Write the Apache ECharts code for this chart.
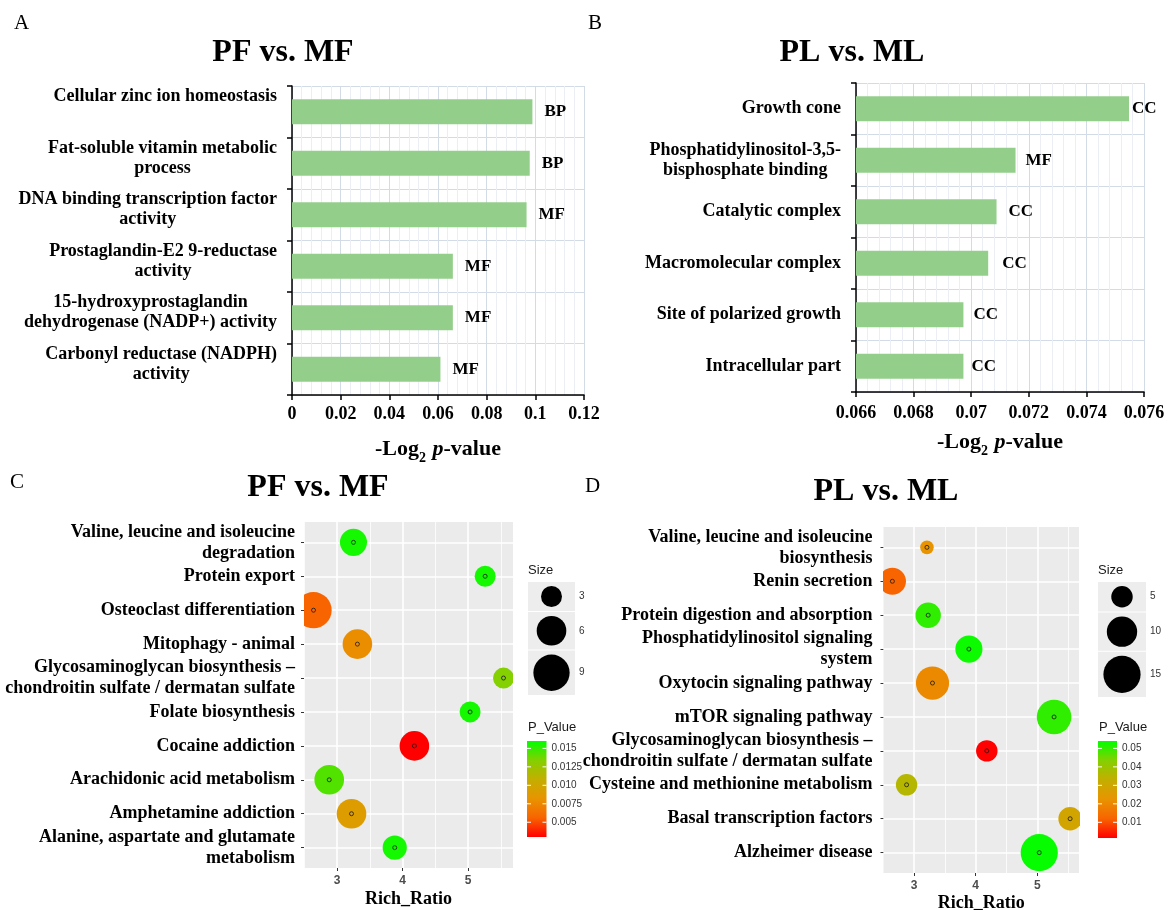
<!DOCTYPE html>
<html><head><meta charset="utf-8"><title>GO and KEGG enrichment</title>
<script src="https://cdn.jsdelivr.net/npm/echarts@6.0.0/dist/echarts.min.js"></script>
<style>html,body{margin:0;padding:0;background:#fff;overflow:hidden}#chart{width:1169px;height:910px}</style>
</head><body><div id="chart"></div>
<script>
// ---------------- Data ----------------
// Panel A : GO, PF vs. MF
const goPFCategories = [
  'Cellular zinc ion homeostasis\n',
  'Fat-soluble vitamin metabolic\nprocess',
  'DNA binding transcription factor\nactivity',
  'Prostaglandin-E2 9-reductase\nactivity',
  '15-hydroxyprostaglandin\ndehydrogenase (NADP+) activity',
  'Carbonyl reductase (NADPH)\nactivity'
];
const goPFValues = [0.0988, 0.0977, 0.0964, 0.0661, 0.0661, 0.0610];
const goPFOntology = ['BP', 'BP', 'MF', 'MF', 'MF', 'MF'];
const goPFAxis = [0, 0.12, 0.02];          // min, max, interval

// Panel B : GO, PL vs. ML
const goPLCategories = [
  'Growth cone',
  'Phosphatidylinositol-3,5-\nbisphosphate binding',
  'Catalytic complex',
  'Macromolecular complex',
  'Site of polarized growth',
  'Intracellular part'
];
const goPLValues = [0.07548, 0.07154, 0.07088, 0.07059, 0.06973, 0.06973];
const goPLOntology = ['CC', 'MF', 'CC', 'CC', 'CC', 'CC'];
const goPLAxis = [0.066, 0.076, 0.002];

// Panel C : KEGG, PF vs. MF
const keggPFPathways = [
  'Valine, leucine and isoleucine\ndegradation',
  'Protein export',
  'Osteoclast differentiation',
  'Mitophagy - animal',
  'Glycosaminoglycan biosynthesis \u2013\nchondroitin sulfate / dermatan sulfate',
  'Folate biosynthesis',
  'Cocaine addiction',
  'Arachidonic acid metabolism',
  'Amphetamine addiction',
  'Alanine, aspartate and glutamate\nmetabolism'
];
const keggPFRichRatio = [3.25, 5.26, 2.64, 3.31, 5.54, 5.03, 4.18, 2.88, 3.22, 3.88];
const keggPFSize = [5, 3, 9, 6, 3, 3, 6, 6, 6, 4];
const keggPFPValue = [0.0156, 0.0156, 0.0056, 0.0079, 0.0134, 0.0156, 0.0030, 0.0144, 0.0090, 0.0156];
const keggPFXTicks = [3, 4, 5];
const keggPFSizeBreaks = [3, 6, 9];
const keggPFColorRange = [0.003, 0.016];
const keggPFColorTicks = [0.015, 0.0125, 0.010, 0.0075, 0.005];
const keggPFColorLabels = ['0.015', '0.0125', '0.010', '0.0075', '0.005'];

// Panel D : KEGG, PL vs. ML
const keggPLPathways = [
  'Valine, leucine and isoleucine\nbiosynthesis',
  'Renin secretion',
  'Protein digestion and absorption',
  'Phosphatidylinositol signaling\nsystem',
  'Oxytocin signaling pathway',
  'mTOR signaling pathway',
  'Glycosaminoglycan biosynthesis \u2013\nchondroitin sulfate / dermatan sulfate',
  'Cysteine and methionine metabolism',
  'Basal transcription factors',
  'Alzheimer disease'
];
const keggPLRichRatio = [3.21, 2.65, 3.23, 3.89, 3.30, 5.27, 4.18, 2.88, 5.53, 5.03];
const keggPLSize = [2, 8, 7, 8, 12, 13, 5, 5, 6, 15];
const keggPLPValue = [0.0225, 0.0120, 0.0503, 0.0530, 0.0204, 0.0503, 0.0016, 0.0356, 0.0288, 0.0535];
const keggPLXTicks = [3, 4, 5];
const keggPLSizeBreaks = [5, 10, 15];
const keggPLColorRange = [0.0015, 0.054];
const keggPLColorTicks = [0.05, 0.04, 0.03, 0.02, 0.01];
const keggPLColorLabels = ['0.05', '0.04', '0.03', '0.02', '0.01'];

// ---------------- Styling ----------------
const SERIF = '"Times New Roman","Liberation Serif",serif';
const SANS = '"Liberation Sans",Arial,sans-serif';
const BAR_COLOR = '#93cf8a';
const GRID_MAJOR = '#d3dbe6';
const GRID_MINOR = '#ebeff5';
const RAMP = ['#ff0000', '#f86400', '#e89400', '#c4ae00', '#84d000', '#00ff00'];
const SIZE_K_C = 12.1, SIZE_K_D = 9.6;

const chart = echarts.init(document.getElementById('chart'), null, { width: 1169, height: 910 });

function centeredLines(v) {
  return v.split('\n').map(s => '{c|' + (s === '' ? ' ' : s) + '}').join('\n');
}
const richCenter = { c: { align: 'center', fontFamily: SERIF, fontWeight: 'bold', fontSize: 18, lineHeight: 20, color: '#000' } };

function logName() {
  const base = { fontFamily: SERIF, fontWeight: 'bold', fontSize: 22, color: '#000', lineHeight: 24, verticalAlign: 'top' };
  return {
    text: '{a|-Log}{s|2}{a| }{i|p}{a|-value}',
    style: {
      fontFamily: SERIF, fontWeight: 'bold', fontSize: 22, color: '#000',
      rich: {
        a: base,
        i: Object.assign({}, base, { fontStyle: 'italic' }),
        s: { fontFamily: SERIF, fontWeight: 'bold', fontSize: 14, color: '#000', lineHeight: 14, verticalAlign: 'top', padding: [13, 1, 0, 0] }
      }
    }
  };
}

function goXAxis(grid, ax, margin, gap) {
  const nm = logName();
  return {
    gridIndex: grid, type: 'value', min: ax[0], max: ax[1], interval: ax[2],
    axisLine: { show: true, onZero: false, lineStyle: { color: '#000', width: 1.5 } },
    axisTick: { show: true, length: 5, lineStyle: { color: '#000', width: 1.5 } },
    axisLabel: { margin: margin, color: '#000', fontFamily: SERIF, fontWeight: 'bold', fontSize: 18, hideOverlap: false },
    splitLine: { show: true, lineStyle: { color: GRID_MAJOR, width: 1 } },
    minorTick: { show: false, splitNumber: 5 },
    minorSplitLine: { show: true, lineStyle: { color: GRID_MINOR, width: 1 } },
    name: nm.text, nameLocation: 'middle', nameGap: gap, nameTextStyle: nm.style
  };
}
function goYAxis(grid, cats, margin, padBottom) {
  return {
    gridIndex: grid, type: 'category', data: cats, inverse: true,
    axisLine: { show: true, lineStyle: { color: '#000', width: 1.5 } },
    axisTick: { show: true, length: 5, lineStyle: { color: '#000', width: 1.5 } },
    axisLabel: { interval: 0, margin: margin, formatter: centeredLines, rich: richCenter,
      fontFamily: SERIF, fontWeight: 'bold', fontSize: 18, color: '#000', padding: [0, 0, padBottom, 0] },
    splitLine: { show: true, interval: 0, lineStyle: { color: GRID_MAJOR, width: 1 } }
  };
}
function goBar(idx, values, onto, distances) {
  return {
    type: 'bar', xAxisIndex: idx, yAxisIndex: idx, barWidth: 25,
    data: values.map((v, i) => ({ value: v, label: { distance: distances[i] } })),
    itemStyle: { color: BAR_COLOR },
    label: { show: true, position: 'right', formatter: p => onto[p.dataIndex],
      fontFamily: SERIF, fontWeight: 'bold', fontSize: 17, color: '#000' },
    animation: false
  };
}

function limits(xs) {
  const lo = Math.min.apply(null, xs), hi = Math.max.apply(null, xs), e = (hi - lo) * 0.05;
  return [lo - e, hi + e];
}
const limPF = limits(keggPFRichRatio), limPL = limits(keggPLRichRatio);

function ggXAxis(grid, lim, ticks, margin, gap) {
  return {
    gridIndex: grid, type: 'value', min: lim[0], max: lim[1],
    axisLine: { show: false },
    axisTick: { show: true, length: 3, customValues: ticks, lineStyle: { color: '#333', width: 1 } },
    axisLabel: { customValues: ticks, margin: margin, color: '#4d4d4d', fontFamily: SANS, fontWeight: 'bold', fontSize: 12 },
    splitLine: { show: false },
    name: 'Rich_Ratio', nameLocation: 'middle', nameGap: gap,
    nameTextStyle: { fontFamily: SERIF, fontWeight: 'bold', fontSize: 18, color: '#000' }
  };
}
function ggYAxis(grid, names, margin) {
  const idx = names.map((_, i) => i + 1);
  return {
    gridIndex: grid, type: 'value', min: 0.4, max: names.length + 0.6, inverse: true,
    axisLine: { show: false },
    axisTick: { show: true, length: 3, customValues: idx, lineStyle: { color: '#333', width: 1 } },
    axisLabel: { customValues: idx, formatter: v => names[Math.round(v) - 1] || '', margin: margin,
      fontFamily: SERIF, fontWeight: 'bold', fontSize: 18, lineHeight: 21, color: '#000', align: 'right' },
    splitLine: { show: false }
  };
}
function ggGridLines(lim, majors, n) {
  const data = [];
  const minors = [];
  for (let i = 0; i < majors.length + 1; i++) {
    const m = (i === 0 ? majors[0] - 0.5 : majors[i - 1] + 0.5);
    if (m > lim[0] && m < lim[1]) minors.push(m);
  }
  minors.forEach(v => data.push({ xAxis: v, lineStyle: { color: '#fff', width: 0.8, type: 'solid' } }));
  majors.forEach(v => data.push({ xAxis: v, lineStyle: { color: '#fff', width: 1.6, type: 'solid' } }));
  for (let i = 1; i <= n; i++) data.push({ yAxis: i, lineStyle: { color: '#fff', width: 1.6, type: 'solid' } });
  return { silent: true, symbol: ['none', 'none'], label: { show: false }, z: 1, animation: false,
    emphasis: { disabled: true }, data: data };
}
// bubbles as a custom series so that they are clipped to the panel like ggplot
function ggBubbles(idx, xs, sizes, ps, k, lim, majors, n) {
  return {
    type: 'custom', xAxisIndex: idx, yAxisIndex: idx, z: 3, clip: true,
    dimensions: ['x', 'y', 'size', 'p'],
    encode: { x: 0, y: 1 },
    data: xs.map((x, i) => [x, i + 1, sizes[i], ps[i]]),
    renderItem: (params, api) => {
      const pt = api.coord([api.value(0), api.value(1)]);
      return { type: 'circle', shape: { cx: pt[0], cy: pt[1], r: k * Math.sqrt(api.value(2)) / 2 },
        style: { fill: api.visual('color') } };
    },
    markLine: ggGridLines(lim, majors, n),
    animation: false
  };
}
function ggDots(idx, xs) {
  return {
    type: 'scatter', xAxisIndex: idx, yAxisIndex: idx, z: 4, silent: true,
    data: xs.map((x, i) => [x, i + 1]),
    symbolSize: 4,
    itemStyle: { color: 'rgba(0,0,0,0)', borderColor: '#1a1a1a', borderWidth: 1 },
    animation: false
  };
}

// ---------------- Graphic (titles, legends) ----------------
const graphics = [];
function txt(x, y, text, font, align, color) {
  graphics.push({ type: 'text', x: x, y: y, silent: true,
    style: { text: text, font: font, fill: color || '#000', align: align || 'left', verticalAlign: 'middle',
      textAlign: align || 'left', textVerticalAlign: 'middle' } });
}
[[14, 23, 'A'], [588, 23, 'B'], [10, 482, 'C'], [585, 486, 'D']].forEach(l => txt(l[0], l[1], l[2], '21px ' + SERIF));
[[283, 53, 'PF vs. MF'], [852, 53, 'PL vs. ML'], [318, 488, 'PF vs. MF'], [886, 492, 'PL vs. ML']]
  .forEach(t => txt(t[0], t[1], t[2], 'bold 32px ' + SERIF, 'center'));

function sizeLegend(x, y, w, breaks, k) {
  txt(x, y - 12, 'Size', '13px ' + SANS, 'left', '#1a1a1a');
  let cy = y;
  breaks.forEach(b => {
    const d = k * Math.sqrt(b), h = d + 8;
    graphics.push({ type: 'rect', silent: true, shape: { x: x, y: cy, width: w, height: h }, style: { fill: '#ededed' } });
    graphics.push({ type: 'circle', silent: true, shape: { cx: x + w / 2, cy: cy + h / 2, r: d / 2 }, style: { fill: '#000' } });
    txt(x + w + 4, cy + h / 2, String(b), '10px ' + SANS, 'left', '#333');
    cy += h + 1;
  });
}
function colorBar(x, y, w, h, range, ticks, labels) {
  txt(x + 1, y - 14, 'P_Value', '13px ' + SANS, 'left', '#1a1a1a');
  const stops = RAMP.map((c, i) => ({ offset: i / (RAMP.length - 1), color: RAMP[RAMP.length - 1 - i] }));
  graphics.push({ type: 'rect', silent: true, shape: { x: x, y: y, width: w, height: h },
    style: { fill: new echarts.graphic.LinearGradient(0, 0, 0, 1, stops) } });
  ticks.forEach((v, i) => {
    const ty = y + (range[1] - v) / (range[1] - range[0]) * h;
    graphics.push({ type: 'line', silent: true, shape: { x1: x, y1: ty, x2: x + 4, y2: ty }, style: { stroke: '#fff', lineWidth: 1 } });
    graphics.push({ type: 'line', silent: true, shape: { x1: x + w - 4, y1: ty, x2: x + w, y2: ty }, style: { stroke: '#fff', lineWidth: 1 } });
    txt(x + w + 5, ty, labels[i], '10px ' + SANS, 'left', '#333');
  });
}
sizeLegend(528, 582, 47, keggPFSizeBreaks, SIZE_K_C);
sizeLegend(1098, 582, 48, keggPLSizeBreaks, SIZE_K_D);
colorBar(527, 741, 19.5, 96, keggPFColorRange, keggPFColorTicks, keggPFColorLabels);
colorBar(1098, 741, 19, 97, keggPLColorRange, keggPLColorTicks, keggPLColorLabels);

// ---------------- Option ----------------
const gridBase = { containLabel: false, outerBoundsMode: 'none' };
const option = {
  animation: false,
  backgroundColor: '#fff',
  grid: [
    Object.assign({ left: 292, top: 86, width: 292, height: 309 }, gridBase),
    Object.assign({ left: 856, top: 83, width: 288, height: 309 }, gridBase),
    Object.assign({ left: 304, top: 522, width: 209, height: 346, show: true, backgroundColor: '#ebebeb', borderWidth: 0 }, gridBase),
    Object.assign({ left: 883.5, top: 527, width: 195.5, height: 346, show: true, backgroundColor: '#ebebeb', borderWidth: 0 }, gridBase)
  ],
  xAxis: [
    goXAxis(0, goPFAxis, 10, 43),
    goXAxis(1, goPLAxis, 12, 39),
    ggXAxis(2, limPF, keggPFXTicks, 7, 22),
    ggXAxis(3, limPL, keggPLXTicks, 7, 21)
  ],
  yAxis: [
    goYAxis(0, goPFCategories, 15, 10),
    goYAxis(1, goPLCategories, 15, 0),
    ggYAxis(2, keggPFPathways, 9),
    ggYAxis(3, keggPLPathways, 11)
  ],
  visualMap: [
    { type: 'continuous', show: false, seriesIndex: 2, dimension: 3, min: keggPFColorRange[0], max: keggPFColorRange[1], inRange: { color: RAMP } },
    { type: 'continuous', show: false, seriesIndex: 4, dimension: 3, min: keggPLColorRange[0], max: keggPLColorRange[1], inRange: { color: RAMP } }
  ],
  series: [
    goBar(0, goPFValues, goPFOntology, [12, 12, 12, 12, 12, 12]),
    goBar(1, goPLValues, goPLOntology, [3, 10, 12, 14, 10, 8]),
    ggBubbles(2, keggPFRichRatio, keggPFSize, keggPFPValue, SIZE_K_C, limPF, keggPFXTicks, keggPFPathways.length),
    ggDots(2, keggPFRichRatio),
    ggBubbles(3, keggPLRichRatio, keggPLSize, keggPLPValue, SIZE_K_D, limPL, keggPLXTicks, keggPLPathways.length),
    ggDots(3, keggPLRichRatio)
  ],
  graphic: { elements: graphics }
};
chart.setOption(option);
</script>
</body></html>
